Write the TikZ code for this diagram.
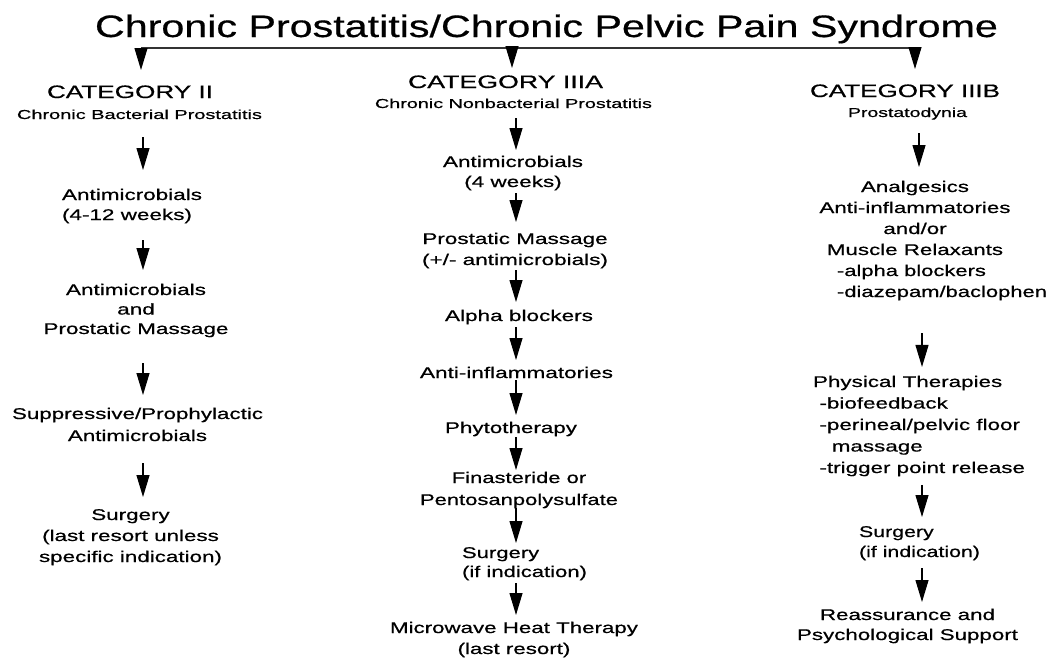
\documentclass[tikz,border=0pt]{standalone}
\usepackage{fontspec}
\setmainfont{Liberation Sans}[FakeBold=0.5]
\usepackage{graphicx}
\usetikzlibrary{arrows.meta}
% #1 column type, #2 target width (px), #3 font size, #4 baselineskip, #5 text
\newcommand\mytxt[5][c]{\resizebox{#2pt}{\height}{\fontsize{#3pt}{#4pt}\selectfont\begin{tabular}[t]{@{}#1@{}}#5\end{tabular}}}
\begin{document}
\begin{tikzpicture}[x=1pt,y=-1pt,
  lbl/.style={inner sep=0pt, outer sep=0pt, anchor=base},
  lbll/.style={inner sep=0pt, outer sep=0pt, anchor=base west},
  arr/.style={line width=1.1pt, -{Triangle[width=13pt,length=22pt]}},
  busline/.style={line width=1.3pt, black!80}]
\fill[white] (0,0) rectangle (1053,659);
\useasboundingbox (0,0) rectangle (1053,659);

% title and bus
\node[lbl] (title) at (546.5,37) {\mytxt{903}{31}{34}{Chronic Prostatitis/Chronic Pelvic Pain Syndrome}};
\coordinate (t1) at (141,48);
\coordinate (t2) at (512,48);
\coordinate (t3) at (915,48);
\coordinate (c1) at (143,0);
\coordinate (c2) at (516,0);
\coordinate (c3) at (919,0);
\coordinate (c3b) at (922,0);

% categories
\node[lbl] (cat1) at (130,98) {\mytxt{166}{18}{21}{CATEGORY II}};
\node[lbl] (sub1) at (139.5,119) {\mytxt{245}{13}{15}{Chronic Bacterial Prostatitis}};
\node[lbl] (cat2) at (505.5,88) {\mytxt{195}{18}{21}{CATEGORY IIIA}};
\node[lbl] (sub2) at (513.5,108) {\mytxt{277}{13}{15}{Chronic Nonbacterial Prostatitis}};
\node[lbl] (cat3) at (905,97) {\mytxt{190}{18}{21}{CATEGORY IIIB}};
\node[lbl] (sub3) at (907.5,117) {\mytxt{119}{13}{15}{Prostatodynia}};

% column 1
\node[lbll] (n11) at (62,200) {\mytxt[l]{140}{15.5}{20}{Antimicrobials\\(4-12 weeks)}};
\node[lbl] (n12) at (136,295) {\mytxt{185}{15.5}{19.5}{Antimicrobials\\and\\Prostatic Massage}};
\node[lbl] (n13) at (137.5,419) {\mytxt{251}{15.5}{22}{Suppressive/Prophylactic\\Antimicrobials}};
\node[lbl] (n14) at (130.5,520) {\mytxt{183}{15.5}{21}{Surgery\\(last resort unless\\specific indication)}};

% column 2
\node[lbl] (n21) at (513,167) {\mytxt{140}{15.5}{20}{Antimicrobials\\(4 weeks)}};
\node[lbl] (n22) at (515,244) {\mytxt{186}{15.5}{21}{Prostatic Massage\\(+/- antimicrobials)}};
\node[lbl] (n23) at (519,321) {\mytxt{148}{15.5}{21}{Alpha blockers}};
\node[lbl] (n24) at (516.5,378) {\mytxt{193}{15.5}{21}{Anti-inflammatories}};
\node[lbl] (n25) at (511,433) {\mytxt{132}{15.5}{21}{Phytotherapy}};
\node[lbl] (n26) at (519,483) {\mytxt{198}{15.5}{22}{Finasteride or\\Pentosanpolysulfate}};
\node[lbll] (n27) at (462,558) {\mytxt[l]{125}{15.5}{19}{Surgery\\(if indication)}};
\node[lbl] (n28) at (514,633) {\mytxt{248}{15.5}{21}{Microwave Heat Therapy\\(last resort)}};

% column 3
\node[lbl] (n31) at (915,192) {\mytxt{191}{15.5}{21}{Analgesics\\Anti-inflammatories\\and/or\\Muscle Relaxants}};
\node[lbll] (n32) at (837,276) {\mytxt[l]{210}{15.5}{21}{-alpha blockers\\-diazepam/baclophen}};
\node[lbll] (n33) at (813,387) {\mytxt[l]{212}{15.5}{21.5}{Physical Therapies\\\hspace*{4.5pt}-biofeedback\\\hspace*{4.5pt}-perineal/pelvic floor\\\hspace*{13pt}massage\\\hspace*{4.5pt}-trigger point release}};
\node[lbll] (n34) at (859,537) {\mytxt[l]{121}{15.5}{20}{Surgery\\(if indication)}};
\node[lbl] (n35) at (907.5,620) {\mytxt{221}{15.5}{20}{Reassurance and\\Psychological Support}};

% bus and top arrows
\draw[busline] (t1) -- (t3);
\draw[arr, shorten >=13.3pt] (t1) -- (cat1.north -| t1);
\draw[arr, shorten <=-5.2pt, shorten >=5.3pt] (title.south -| t2) -- (cat2.north -| t2);
\draw[arr, shorten >=13.3pt] (t3) -- (cat3.north -| t3);

% column 1 arrows
\draw[arr, shorten <=13.5pt, shorten >=16pt] (sub1.south -| c1) -- (n11.north -| c1);
\draw[arr, shorten <=14pt, shorten >=11.35pt] (n11.south -| c1) -- (n12.north -| c1);
\draw[arr, shorten <=23.15pt, shorten >=8.6pt] (n12.south -| c1) -- (n13.north -| c1);
\draw[arr, shorten <=15.4pt, shorten >=8.3pt] (n13.south -| c1) -- (n14.north -| c1);

% column 2 arrows
\draw[arr, shorten <=5.5pt, shorten >=3pt] (sub2.south -| c2) -- (n21.north -| c2);
\draw[arr, shorten >=7.3pt] (n21.south -| c2) -- (n22.north -| c2);
\draw[arr, shorten <=-1.3pt, shorten >=4.3pt] (n22.south -| c2) -- (n23.north -| c2);
\draw[arr, shorten >=3.3pt] (n23.south -| c2) -- (n24.north -| c2);
\draw[arr, shorten <=-4.3pt, shorten >=3.3pt] (n24.south -| c2) -- (n25.north -| c2);
\draw[arr, shorten <=-2.3pt, shorten >=-2.4pt] (n25.south -| c2) -- (n26.north -| c2);
\draw[arr, shorten <=-3.6pt, shorten >=1.7pt] (n26.south -| c2) -- (n27.north -| c2);
\draw[arr, shorten <=0.3pt, shorten >=3.3pt] (n27.south -| c2) -- (n28.north -| c2);

% column 3 arrows
\draw[arr, shorten <=11.5pt, shorten >=10.3pt] (sub3.south -| c3) -- (n31.north -| c3);
\draw[arr, shorten <=29.7pt, shorten >=5pt] (n32.south -| c3b) -- (n33.north -| c3b);
\draw[arr, shorten <=5.5pt, shorten >=6pt] (n33.south -| c3b) -- (n34.north -| c3b);
\draw[arr, shorten <=5pt, shorten >=4pt] (n34.south -| c3b) -- (n35.north -| c3b);
\end{tikzpicture}
\end{document}
